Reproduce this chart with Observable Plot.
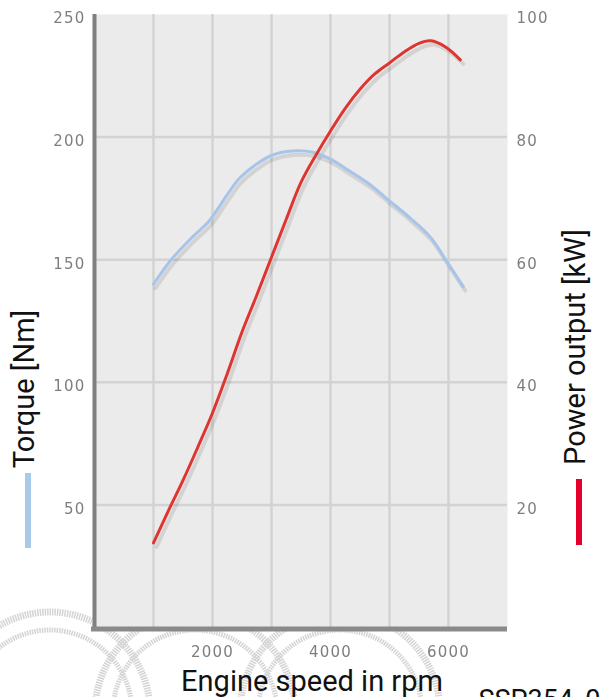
<!DOCTYPE html>
<html>
<head>
<meta charset="utf-8">
<script src="https://cdn.jsdelivr.net/npm/d3@7"></script>
<script src="https://cdn.jsdelivr.net/npm/@observablehq/plot@0.6"></script>
<style>
  html, body { margin: 0; padding: 0; background: #fff; }
  #wrap { position: relative; width: 602px; height: 697px; overflow: hidden; }
  #wrap > svg.rings { position: absolute; left: 0; top: 0; }
  #chart { position: absolute; left: 0; top: 0; }
  .swatch { position: absolute; width: 6px; }
</style>
</head>
<body>
<div id="wrap">
  <div id="chart"></div>
</div>
<script>
// ---- data ----
const rpmTorque = [1000, 1300, 1650, 1950, 2250, 2450, 2750, 3000, 3350, 3700, 4000, 4300, 4650, 5000, 5350, 5700, 5950, 6250];
const torqueNm  = [140, 150, 159, 166, 176.5, 183, 189, 192.5, 194.3, 193.8, 191, 186.5, 181, 174, 167, 159, 150, 139];

const rpmPower  = [1000, 1250, 1500, 1750, 2000, 2250, 2500, 2750, 3000, 3250, 3500, 3750, 4000, 4250, 4500, 4750, 5000, 5250, 5500, 5700, 5950, 6200];
const powerKW   = [13.8, 19, 24, 29.4, 35, 41.4, 48.2, 54.2, 60.4, 66.6, 72.6, 77, 81, 84.7, 87.8, 90.3, 92.1, 93.9, 95.3, 95.7, 94.7, 92.6];

const xGridTicks   = [1000, 2000, 3000, 4000, 5000, 6000];
const xTickLabels  = [2000, 4000, 6000];
const torqueTicks  = [50, 100, 150, 200, 250];
const powerTicks   = [20, 40, 60, 80, 100];

const xLabel = "Engine speed in rpm";
const torqueLabel = "Torque [Nm]";
const powerLabel = "Power output [kW]";
const codeLabel = "SSP354_012";

const torqueColor = "#a7c4ea";
const powerColor = "#df3530";
const kWtoNm = 2.5; // right axis 0–100 kW shares the 0–250 Nm frame

const torqueData = rpmTorque.map((r, i) => ({rpm: r, v: torqueNm[i]}));
const powerData = rpmPower.map((r, i) => ({rpm: r, v: powerKW[i] * kWtoNm}));

const tickFont = "DejaVu Sans, sans-serif";
const labelFont = "Roboto, Liberation Sans, sans-serif";
const tickColor = "#7e7e7e";
const tickStyle = {fontSize: 15, fontFamily: tickFont, fill: tickColor, label: null};

const plot = Plot.plot({
  width: 602,
  height: 697,
  marginLeft: 94,
  marginRight: 95,
  marginTop: 14,
  marginBottom: 70,
  style: {background: "transparent", overflow: "visible"},
  x: {domain: [0, 7000], axis: null},
  y: {domain: [0, 250], axis: null},
  marks: [
    Plot.frame({fill: "#ebebeb", stroke: null}),
    Plot.gridX(xGridTicks, {stroke: "#d3d3d3", strokeOpacity: 1, strokeWidth: 2.5}),
    Plot.gridY(torqueTicks.slice(0, -1), {stroke: "#d3d3d3", strokeOpacity: 1, strokeWidth: 2.5}),
    // left axis
    Plot.axisY(torqueTicks, {anchor: "left", tickSize: 0, tickPadding: 9, dy: 4, ...tickStyle}),
    // right axis (power)
    Plot.axisY(powerTicks.map(p => p * kWtoNm), {anchor: "right", tickSize: 0, tickPadding: 9, dy: 4,
      tickFormat: d => d / kWtoNm, ...tickStyle}),
    // bottom axis
    Plot.axisX(xTickLabels, {anchor: "bottom", tickSize: 0, tickPadding: 19, tickFormat: d => String(d), ...tickStyle}),
    // shadows
    Plot.line(torqueData, {x: "rpm", y: "v", curve: "catmull-rom", stroke: "#000", strokeOpacity: 0.1, strokeWidth: 4, dx: 2, dy: 4}),
    Plot.line(powerData, {x: "rpm", y: "v", curve: "catmull-rom", stroke: "#000", strokeOpacity: 0.1, strokeWidth: 4, dx: 3, dy: 4}),
    // curves
    Plot.line(torqueData, {x: "rpm", y: "v", curve: "catmull-rom", stroke: torqueColor, strokeWidth: 3}),
    Plot.line(powerData, {x: "rpm", y: "v", curve: "catmull-rom", stroke: powerColor, strokeWidth: 3}),
    // axis lines
    Plot.ruleX([0], {stroke: "#808080", strokeWidth: 4}),
    Plot.ruleY([0], {stroke: "#8a8a8a", strokeWidth: 5, dy: 1.5, x1: 0, x2: 7000, insetLeft: -3}),
    // titles
    Plot.text([xLabel], {frameAnchor: "bottom", textAnchor: "middle", lineAnchor: "bottom", dx: 11, dy: 63, fontSize: 29, fontFamily: labelFont, fill: "#111"}),
    Plot.text([torqueLabel], {frameAnchor: "left", textAnchor: "middle", lineAnchor: "middle", rotate: -90, dx: -70, dy: 68, fontSize: 29, fontFamily: labelFont, fill: "#111"}),
    Plot.text([powerLabel], {frameAnchor: "right", textAnchor: "middle", lineAnchor: "middle", rotate: -90, dx: 68, dy: 26, fontSize: 29, fontFamily: labelFont, fill: "#111"}),
    Plot.text([codeLabel], {frameAnchor: "bottom-left", textAnchor: "start", lineAnchor: "bottom", dx: 384, dy: 81, fontSize: 27, fontFamily: labelFont, fill: "#111"})
  ]
});
document.getElementById("chart").appendChild(plot);

// soft blur + spacing on tick labels (the reference labels are low-resolution)
const ns = "http://www.w3.org/2000/svg";
const defs = document.createElementNS(ns, "defs");
defs.innerHTML = '<filter id="soft" x="-20%" y="-50%" width="140%" height="200%"><feGaussianBlur stdDeviation="0.6"/></filter>';
plot.insertBefore(defs, plot.firstChild);
plot.querySelectorAll('g[aria-label$="tick label"]').forEach(g => {
  g.setAttribute("filter", "url(#soft)");
  g.setAttribute("letter-spacing", "1.2");
});

// decorative watermark rings (background, not data)
const rings = document.createElementNS(ns, "svg");
rings.setAttribute("class", "rings");
rings.setAttribute("width", 602);
rings.setAttribute("height", 697);
[50, 195, 340].forEach(cx => {
  [[100, 7], [82, 5]].forEach(([r, w]) => {
    const c = document.createElementNS(ns, "circle");
    c.setAttribute("cx", cx); c.setAttribute("cy", 712); c.setAttribute("r", r);
    c.setAttribute("fill", "none"); c.setAttribute("stroke", "#d4d4d4");
    c.setAttribute("stroke-width", w); c.setAttribute("stroke-dasharray", "1.5 1");
    rings.appendChild(c);
  });
});
document.getElementById("wrap").insertBefore(rings, document.getElementById("chart"));

// legend swatches
const wrap = document.getElementById("wrap");
[[25, 473, 75, "#aac8ea"], [576, 479, 66, "#e4002b"]].forEach(([l, t, h, c]) => {
  const d = document.createElement("div");
  d.className = "swatch";
  d.style.left = l + "px"; d.style.top = t + "px"; d.style.height = h + "px"; d.style.background = c;
  wrap.appendChild(d);
});
</script>
</body>
</html>
